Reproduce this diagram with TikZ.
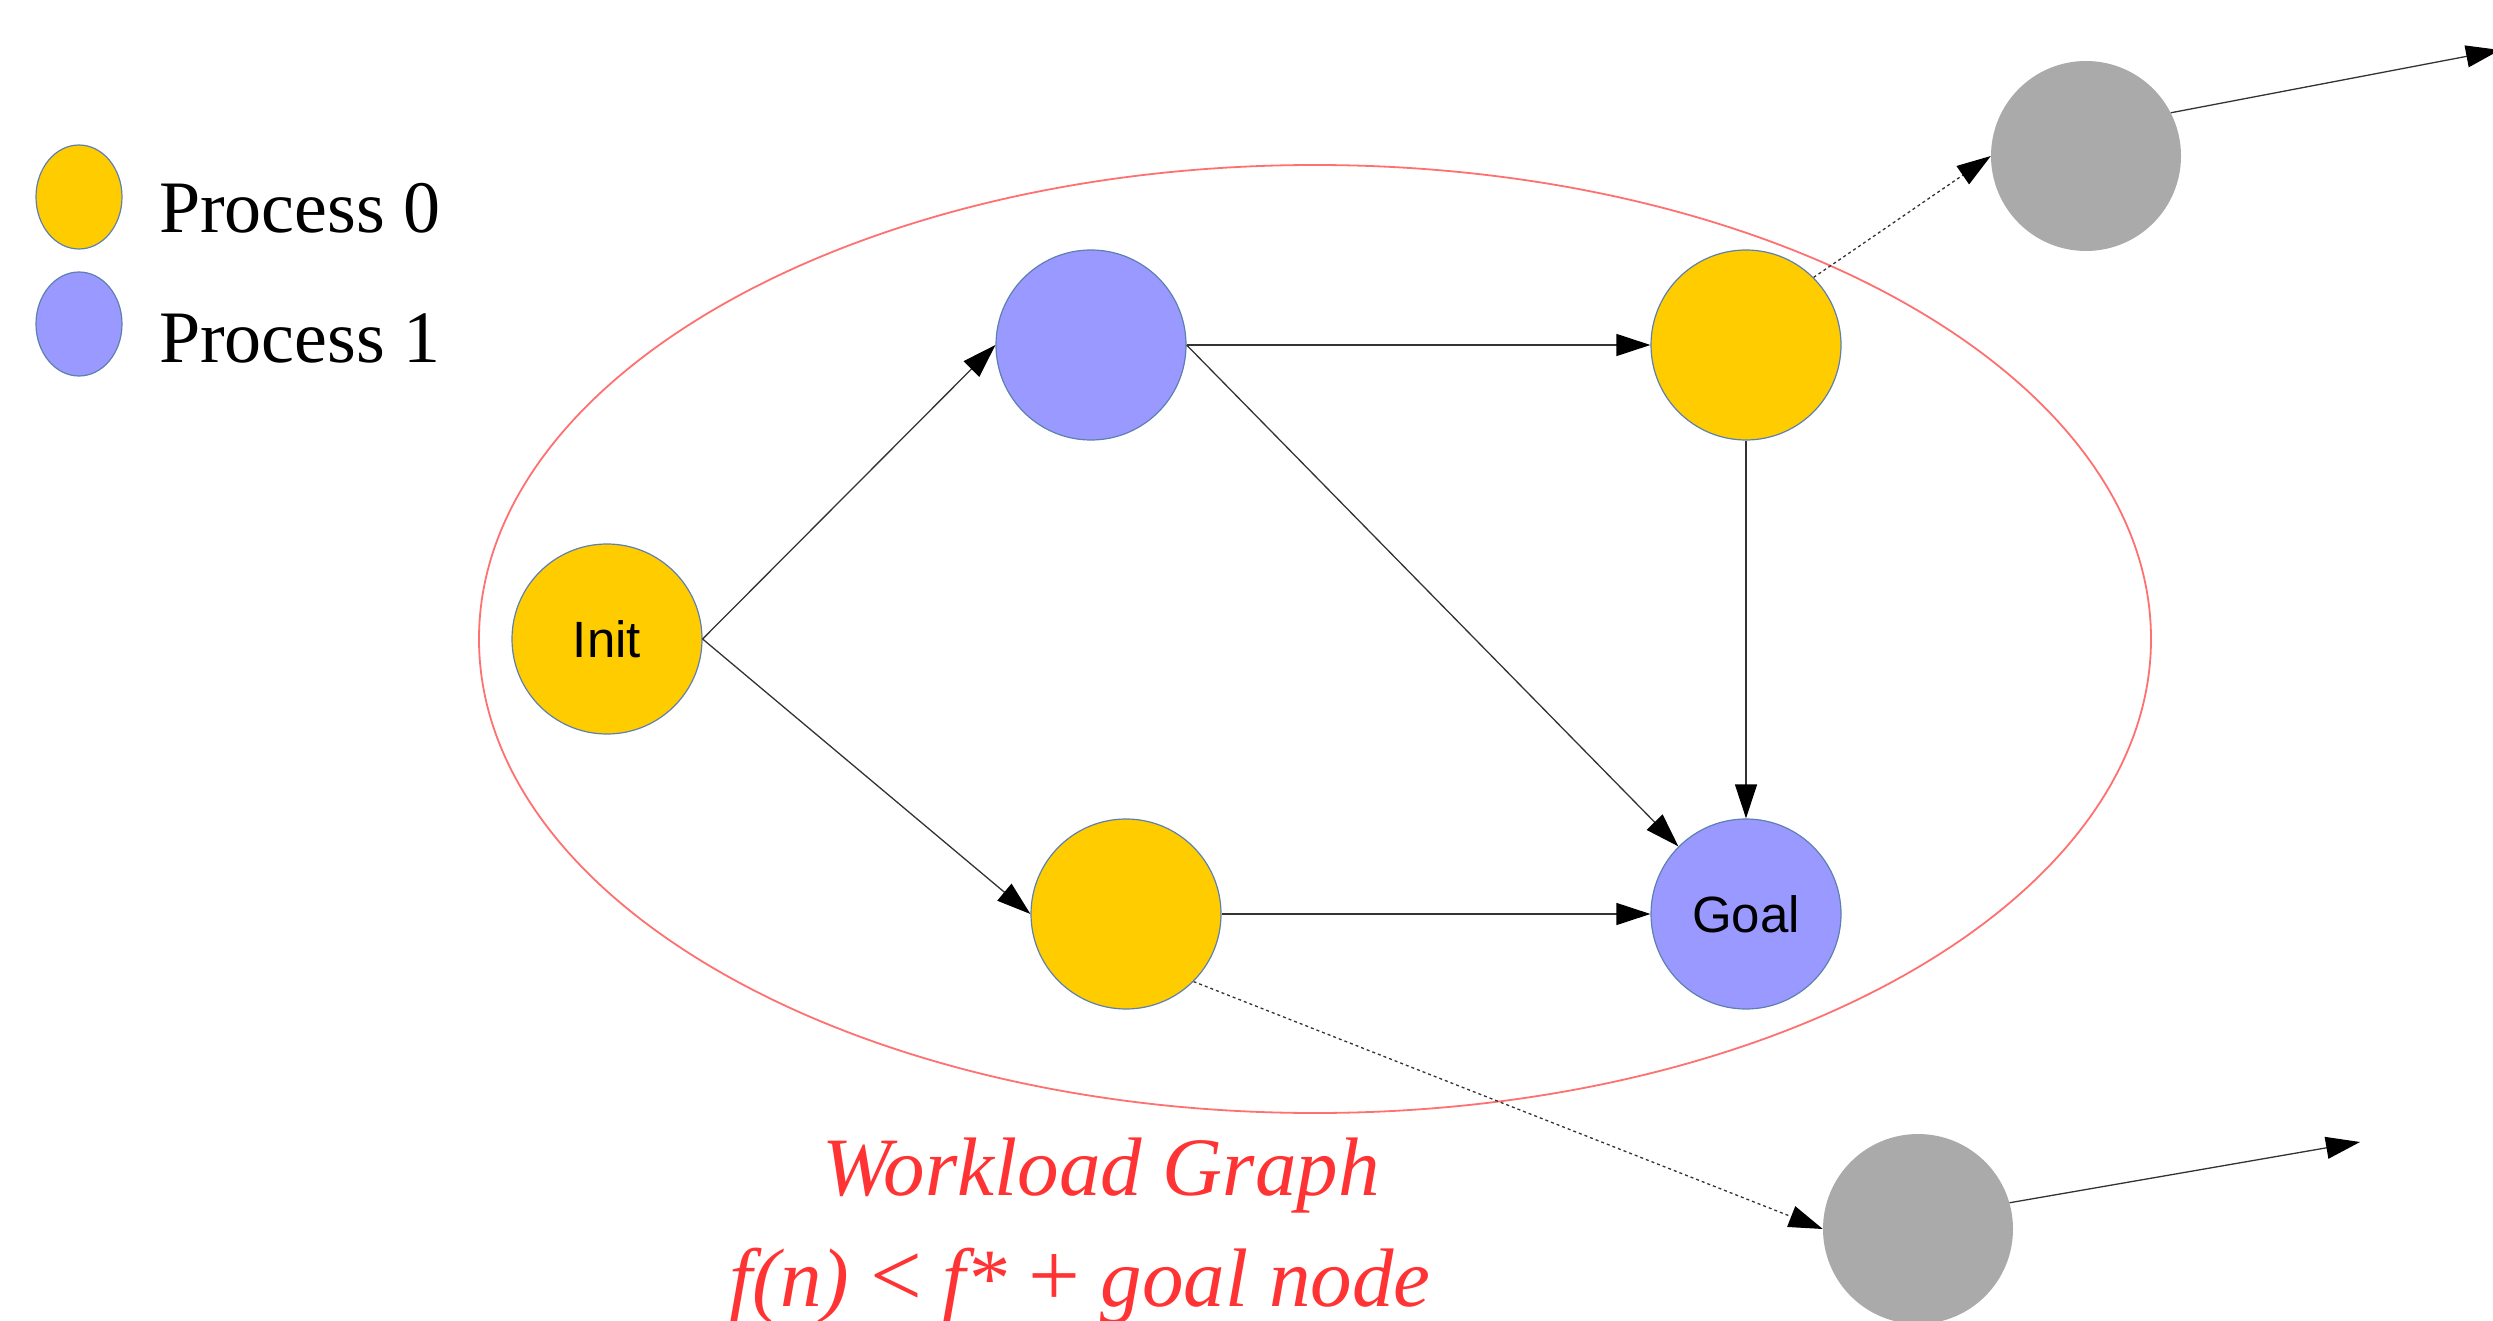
\documentclass[tikz,border=0pt]{standalone}
\usepackage{fontspec}
\setmainfont{Liberation Serif}
\newfontfamily\labelfont{Liberation Sans}
\usetikzlibrary{arrows.meta,shapes.geometric}
\definecolor{procA}{HTML}{FFCC00}
\definecolor{procB}{HTML}{9999FF}
\definecolor{rim}{HTML}{5E80B0}
\definecolor{idle}{HTML}{AAAAAA}
\definecolor{edgecol}{HTML}{333333}
\definecolor{zone}{HTML}{FF7070}
\definecolor{caption}{HTML}{FF3333}
\begin{document}
\begin{tikzpicture}[x=1pt,y=-1pt,
  state/.style={circle, minimum size=190pt, inner sep=0pt, draw=rim, line width=1.2pt,
    font=\labelfont\fontsize{51}{51}\selectfont},
  yel/.style={state, fill=procA},
  blu/.style={state, fill=procB},
  far/.style={circle, minimum size=190pt, inner sep=0pt, fill=idle},
  key/.style={ellipse, minimum width=86pt, minimum height=104pt, inner sep=0pt, draw=rim, line width=1.2pt},
  keytext/.style={anchor=base west, inner sep=0pt, font=\fontsize{74}{74}\selectfont},
  link/.style={draw=edgecol, line width=1.3pt,
    -{Triangle[length=34pt,width=22pt,color=black,fill=black]}},
  spill/.style={link, dash pattern=on 3pt off 3pt},
  note/.style={anchor=base, inner sep=0pt, text=caption, font=\itshape\fontsize{83}{83}\selectfont}]
\useasboundingbox (0,0) rectangle (2493,1321);

% legend
\node[key, fill=procA] (k0) at (79,197) {};
\node[key, fill=procB] (k1) at (79,324) {};
\node[keytext] (t0) at (159,233) {Process 0};
\node[keytext] (t1) at (159,363) {Process 1};

% workload region
\draw[zone, line width=1.8pt] (1315,639) ellipse [x radius=836, y radius=474];

% graph nodes
\node[yel] (init) at (607,639) {Init};
\node[blu] (b1) at (1091,345) {};
\node[yel] (y1) at (1746,345) {};
\node[yel] (y2) at (1126,914) {};
\node[blu] (goal) at (1746,914) {Goal};

% nodes outside the region
\node[far] (g1) at (2086,156) {};
\node[far] (g2) at (1918,1229) {};
\coordinate (g1out) at (2500,50);
\coordinate (g2out) at (2360,1142);

% edges
\draw[link] (init.east) -- (b1.west);
\draw[link] (init.east) -- (y2.west);
\draw[link] (b1.east) -- (y1.west);
\draw[link] (b1.east) -- (goal.135);
\draw[link] (y1.south) -- (goal.north);
\draw[link] (y2.east) -- (goal.west);
\draw[spill] (y1.45) -- (g1.west);
\draw[spill] (y2.-45) -- (g2.west);
\draw[link] (g1.27) -- (g1out);
\draw[link] (g2.16) -- (g2out);

% caption
\node[note] (cap1) at (1101,1195) {Workload Graph};
\node[note] (cap2) at (1080,1306) {f(n) {\upshape\fontsize{92}{92}\selectfont<} f* {\upshape\fontsize{92}{92}\selectfont+} goal node};
\end{tikzpicture}
\end{document}
